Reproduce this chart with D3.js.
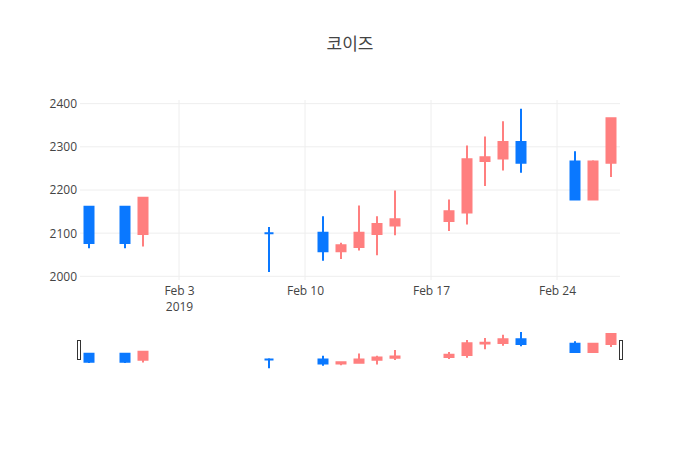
<!DOCTYPE html>
<html>
<head>
<meta charset="utf-8">
<script src="https://cdn.jsdelivr.net/npm/d3@7"></script>
<style>
  html, body { margin: 0; padding: 0; background: #fff; }
  svg text { font-family: "Open Sans", "Noto Sans CJK KR", "Noto Sans", sans-serif; }
</style>
</head>
<body>
<svg id="chart" width="700" height="450"></svg>
<script>
// ---- data ----
const title = "코이즈";
const dates = ["2019-01-29","2019-01-31","2019-02-01","2019-02-08","2019-02-11","2019-02-12","2019-02-13","2019-02-14","2019-02-15","2019-02-18","2019-02-19","2019-02-20","2019-02-21","2019-02-22","2019-02-25","2019-02-26","2019-02-27"];
const openV  = [2161, 2161, 2098, 2100, 2101, 2058, 2068, 2098, 2118, 2128, 2148, 2267, 2273, 2311, 2266, 2178, 2263];
const highV  = [2162, 2162, 2182, 2114, 2139, 2078, 2164, 2139, 2199, 2178, 2303, 2324, 2359, 2388, 2290, 2269, 2368];
const lowV   = [2065, 2065, 2069, 2010, 2036, 2040, 2060, 2049, 2095, 2105, 2120, 2209, 2245, 2240, 2178, 2178, 2230];
const closeV = [2077, 2077, 2182, 2100, 2058, 2072, 2101, 2121, 2132, 2151, 2271, 2276, 2311, 2263, 2178, 2266, 2366];
const yTicks = [2000, 2100, 2200, 2300, 2400];
const xTicks = ["2019-02-03", "2019-02-10", "2019-02-17", "2019-02-24"];
const xTickLabels = ["Feb 3\n2019", "Feb 10", "Feb 17", "Feb 24"];
const xRange = ["2019-01-28T12:00:00Z", "2019-02-27T12:00:00Z"];
const yRange = [1991.5, 2408.5];

const incColor = "#ff7f7f";
const decColor = "#0a78ff";

const parse = s => new Date(s.length === 10 ? s + "T00:00:00Z" : s);
const rows = dates.map((d, i) => ({ date: parse(d), o: openV[i], h: highV[i], l: lowV[i], c: closeV[i] }));

const svg = d3.select("#chart");
const L = 80, R = 620, T = 100, B = 280;
const sT = 330, sB = 370;

const x = d3.scaleUtc().domain(xRange.map(parse)).range([L, R]);
const y = d3.scaleLinear().domain(yRange).range([B, T]);
const ys = d3.scaleLinear().domain(yRange).range([sB, sT]);
const dayPx = x(parse("2019-02-02")) - x(parse("2019-02-01"));
const hw = dayPx * 0.25;

// title
svg.append("text").attr("x", 350).attr("y", 50).attr("text-anchor", "middle")
  .attr("font-size", 17).attr("fill", "#444").text(title);

// grid
const grid = svg.append("g");
yTicks.forEach(v => {
  grid.append("line").attr("x1", L).attr("x2", R).attr("y1", y(v)).attr("y2", y(v))
    .attr("stroke", "#eee").attr("stroke-width", 1);
});
xTicks.forEach(d => {
  grid.append("line").attr("x1", x(parse(d))).attr("x2", x(parse(d))).attr("y1", T).attr("y2", B)
    .attr("stroke", "#eee").attr("stroke-width", 1);
});

// y axis labels
const yAxis = d3.axisLeft(y).tickValues(yTicks).tickSize(0).tickPadding(3).tickFormat(d3.format("d"));
const gy = svg.append("g").attr("transform", `translate(${L},0)`).call(yAxis);
gy.select(".domain").remove();
gy.selectAll("text").attr("font-size", 12).attr("fill", "#444")
  .style("font-family", '"Open Sans", sans-serif');

// x axis labels
const xAxis = d3.axisBottom(x).tickValues(xTicks.map(parse)).tickSize(0).tickPadding(0).tickFormat(() => "");
const gx = svg.append("g").attr("transform", `translate(0,${B})`).call(xAxis);
gx.select(".domain").remove();
gx.selectAll(".tick").each(function(d, i) {
  const t = d3.select(this).select("text").text(null).attr("y", 0).attr("dy", null)
    .attr("font-size", 12).attr("fill", "#444").style("font-family", '"Open Sans", sans-serif');
  xTickLabels[i].split("\n").forEach((line, j) => {
    t.append("tspan").attr("x", 0).attr("y", 15 + j * 15.5).text(line);
  });
});

function drawCandles(g, ysc) {
  g.selectAll("path").data(rows).join("path")
    .attr("d", d => {
      const cx = x(d.date);
      const yo = ysc(d.o), yc = ysc(d.c);
      const top = Math.min(yo, yc), bot = Math.max(yo, yc);
      return `M${cx - hw},${top}H${cx + hw}V${bot}H${cx - hw}Z` +
             `M${cx},${top}V${ysc(d.h)}M${cx},${bot}V${ysc(d.l)}`;
    })
    .attr("fill", d => d.c > d.o ? incColor : decColor)
    .attr("stroke", d => d.c > d.o ? incColor : decColor)
    .attr("stroke-width", 2);
}

drawCandles(svg.append("g"), y);

// range slider
const slider = svg.append("g");
slider.append("rect").attr("x", L).attr("y", sT).attr("width", R - L).attr("height", sB - sT).attr("fill", "#fff");
drawCandles(slider.append("g"), ys);
[L - 2.5, R - 0.5].forEach(hx => {
  slider.append("rect").attr("x", hx).attr("y", 340.5).attr("width", 3).attr("height", 19)
    .attr("rx", 1).attr("fill", "#fff").attr("stroke", "#333").attr("stroke-width", 1)
    .attr("shape-rendering", "crispEdges");
});
</script>
</body>
</html>
